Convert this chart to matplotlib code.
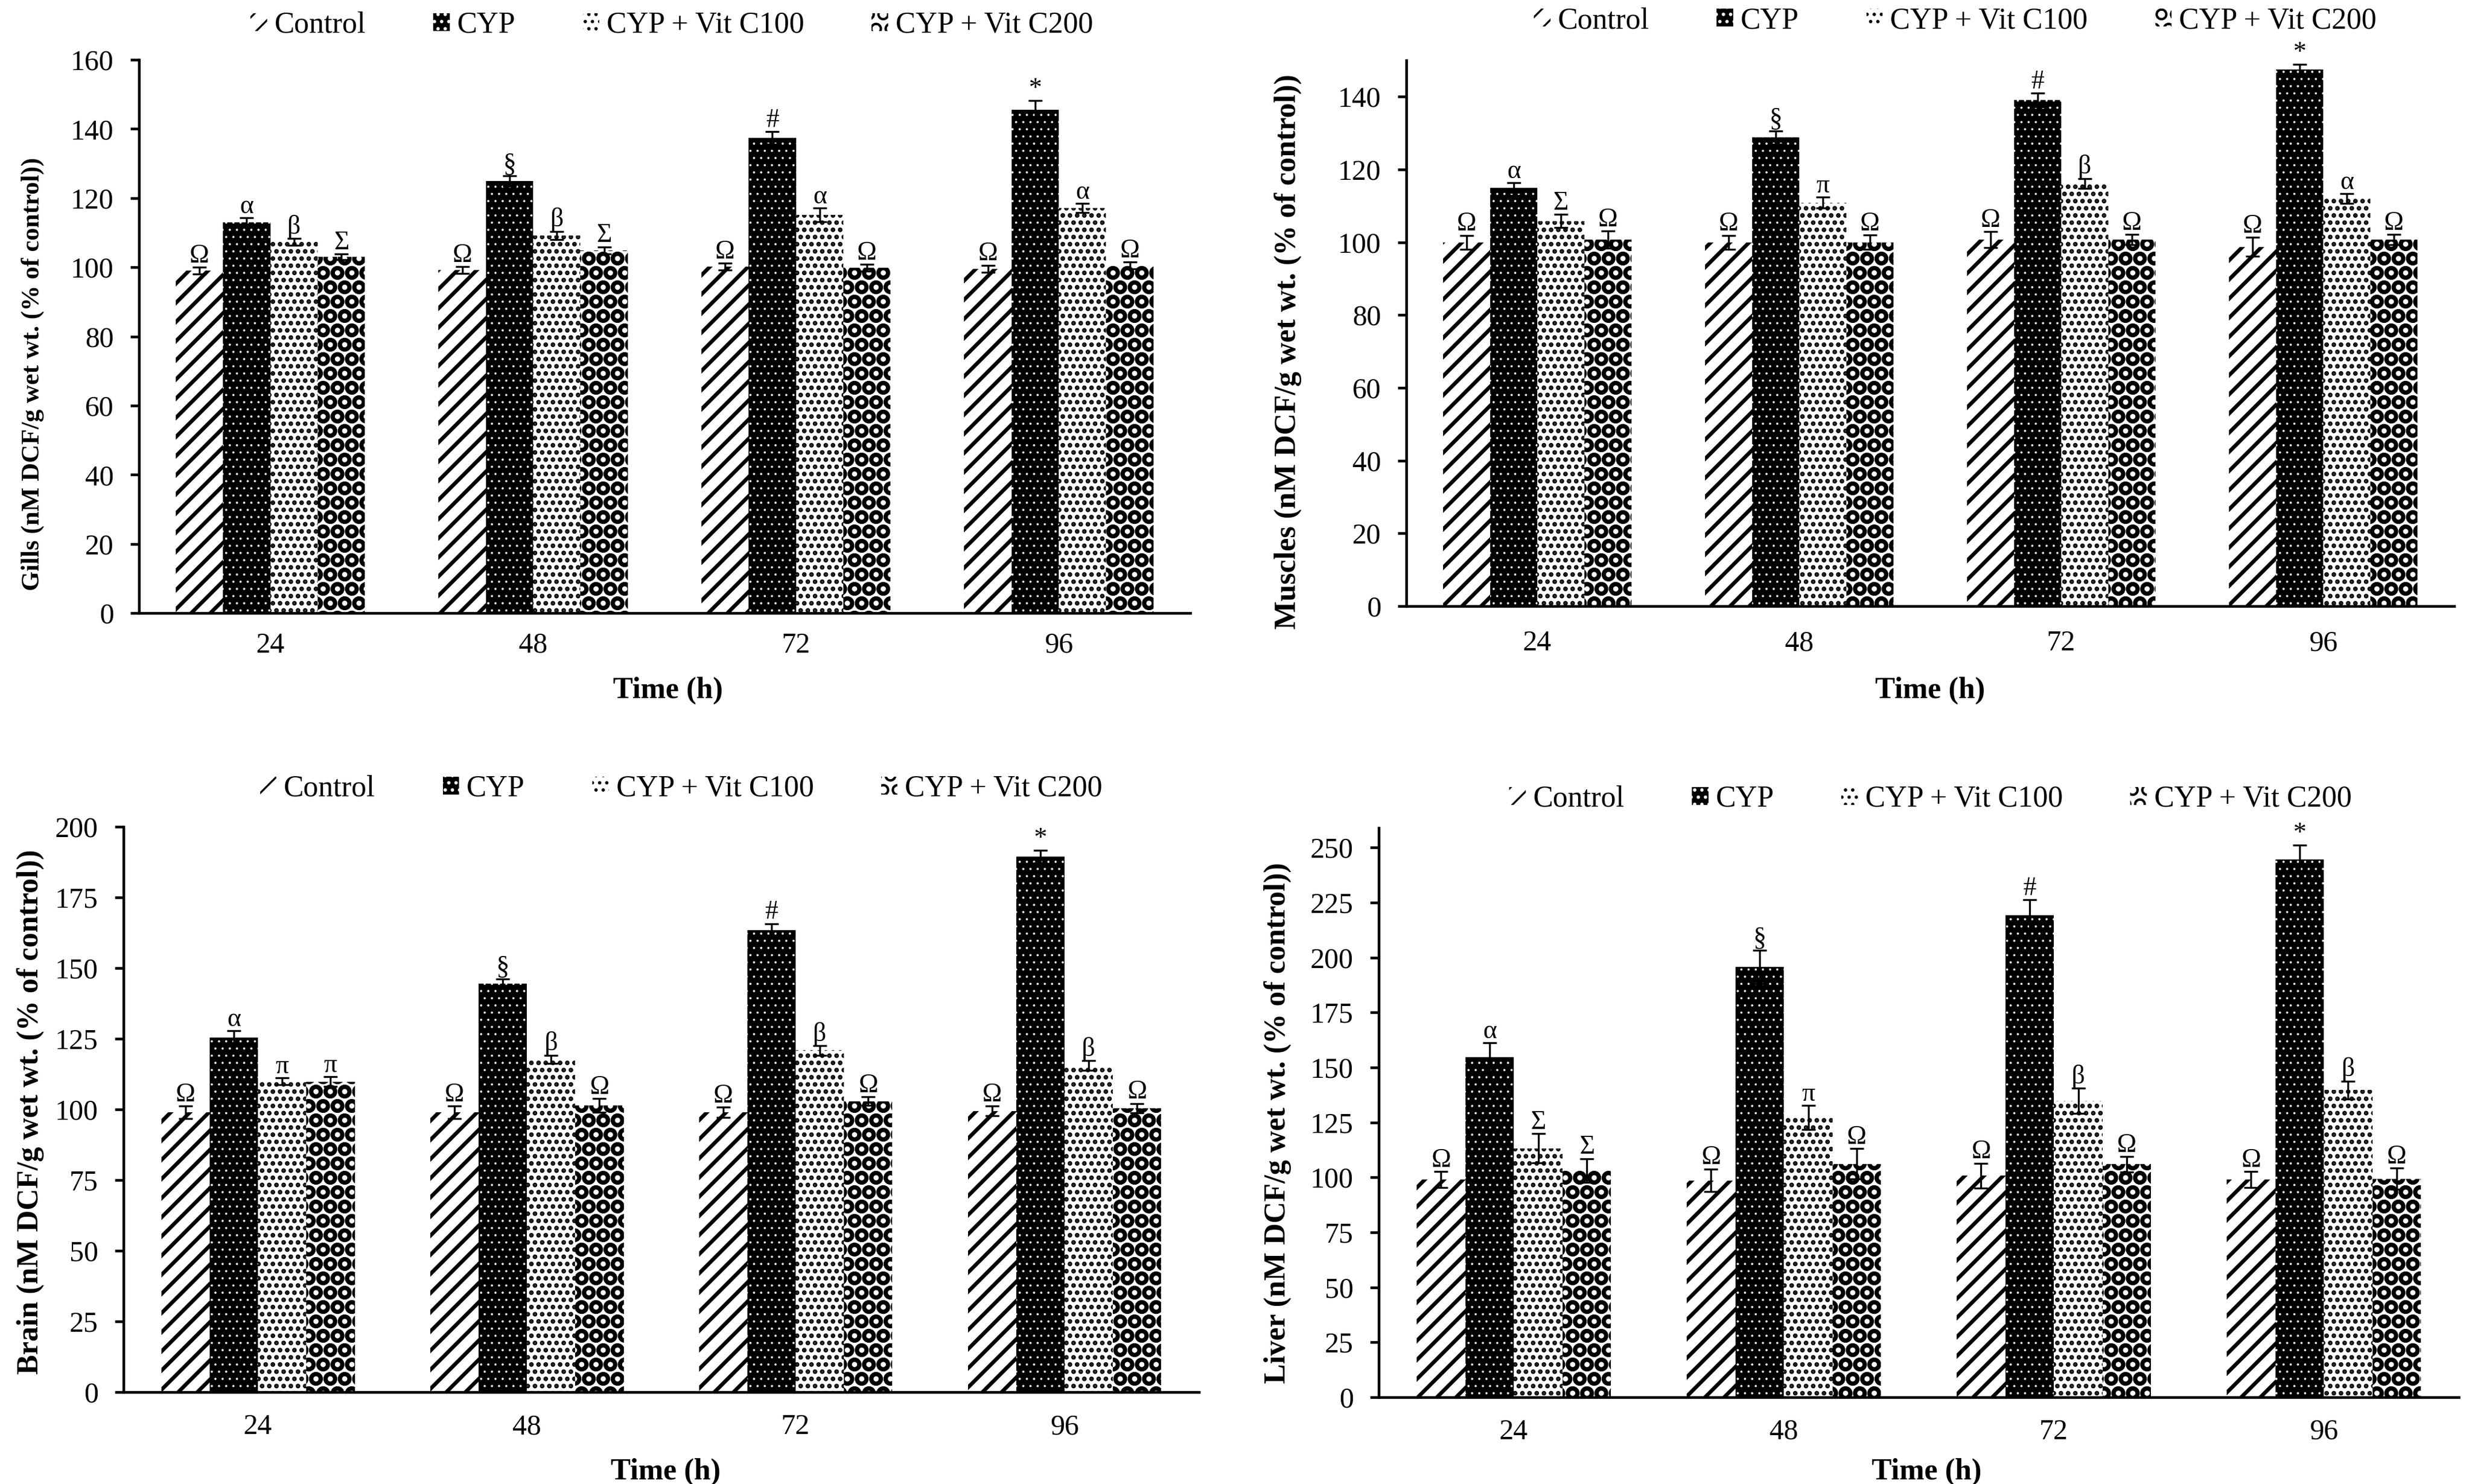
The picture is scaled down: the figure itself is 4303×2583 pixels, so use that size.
import matplotlib
matplotlib.use("agg")

import matplotlib.pyplot as plt
import numpy as np

plt.rcParams["font.family"] = ["Liberation Serif", "DejaVu Serif"]
plt.rcParams["hatch.linewidth"] = 0.8

times = ["24", "48", "72", "96"]
groups = ["Control", "CYP", "CYP + Vit C100", "CYP + Vit C200"]

# values per group (rows) over time (columns)
gills_mean = [[99.0, 99.2, 100.2, 99.6],
              [113.0, 124.9, 137.4, 145.5],
              [107.3, 109.2, 115.1, 117.2],
              [103.0, 104.9, 99.8, 100.5]]
gills_err = [[1.0, 1.0, 1.0, 1.0],
             [1.3, 1.5, 1.8, 2.7],
             [1.0, 1.2, 2.0, 1.3],
             [0.8, 1.0, 1.0, 1.0]]
gills_sig = [["Ω", "Ω", "Ω", "Ω"],
             ["α", "§", "#", "*"],
             ["β", "β", "α", "α"],
             ["Σ", "Σ", "Ω", "Ω"]]

muscles_mean = [[100.0, 100.0, 100.7, 98.7],
                [115.0, 128.8, 139.1, 147.4],
                [105.8, 110.9, 116.1, 112.0],
                [100.7, 100.0, 100.7, 100.7]]
muscles_err = [[1.9, 1.9, 2.2, 2.6],
               [1.3, 1.8, 1.9, 1.5],
               [1.8, 1.5, 1.4, 1.3],
               [2.4, 2.0, 1.4, 1.4]]
muscles_sig = [["Ω", "Ω", "Ω", "Ω"],
               ["α", "§", "#", "*"],
               ["Σ", "π", "β", "α"],
               ["Ω", "Ω", "Ω", "Ω"]]

brain_mean = [[99.0, 99.0, 99.0, 99.5],
              [125.4, 144.5, 163.5, 189.4],
              [110.0, 117.7, 120.9, 115.5],
              [109.8, 101.4, 102.9, 100.4]]
brain_err = [[2.2, 2.2, 1.8, 1.7],
             [2.4, 1.7, 2.2, 2.2],
             [1.2, 1.5, 1.7, 1.7],
             [1.7, 2.4, 1.5, 1.7]]
brain_sig = [["Ω", "Ω", "Ω", "Ω"],
             ["α", "§", "#", "*"],
             ["π", "β", "β", "β"],
             ["π", "Ω", "Ω", "Ω"]]

liver_mean = [[99.0, 98.6, 100.8, 99.0],
              [154.7, 195.8, 219.2, 244.7],
              [113.2, 127.2, 134.8, 139.7],
              [103.1, 106.2, 106.0, 99.4]]
liver_err = [[3.7, 5.2, 5.6, 3.7],
             [6.5, 7.6, 7.1, 6.3],
             [6.7, 5.4, 5.8, 4.1],
             [5.4, 6.9, 3.5, 4.8]]
liver_sig = [["Ω", "Ω", "Ω", "Ω"],
             ["α", "§", "#", "*"],
             ["Σ", "π", "β", "β"],
             ["Σ", "Ω", "Ω", "Ω"]]

# bar looks: face colour, hatch colour, hatch, hatch line width
styles = [("white", "black", "///", 1.6),
          ("black", "white", "....", 0.3),
          ("white", "black", "....", 1.3),
          ("white", "black", "OO", 1.6)]


def draw_panel(ax, mean, err, sig, ylabel, ymax, yticks, ylab_size,
               legend_xy, ylab_xy, xlab_xy, tick_pad):
    x = np.arange(len(times))
    w = 0.18
    for i, name in enumerate(groups):
        face, hcol, hatch, hlw = styles[i]
        pos = x + (i - 1.5) * w
        bars = ax.bar(pos, mean[i], w, color=face, edgecolor=hcol,
                      hatch=hatch, linewidth=0, label=name, zorder=2)
        for b in bars:
            if hasattr(b, "set_hatch_linewidth"):
                b.set_hatch_linewidth(hlw)
        ax.errorbar(pos, mean[i], yerr=err[i], fmt="none", ecolor="black",
                    elinewidth=0.8, capsize=2.8, capthick=0.8, zorder=3)
        for j in range(len(times)):
            ax.annotate(sig[i][j], (pos[j], mean[i][j] + err[i][j]),
                        xytext=(0, 2), textcoords="offset points",
                        ha="center", va="baseline", fontsize=11)

    ax.set_xlim(-0.5, len(times) - 0.5)
    ax.set_ylim(0, ymax)
    ax.set_yticks(yticks)
    ax.set_xticks(x)
    ax.set_xticklabels(times)
    ax.spines["top"].set_visible(False)
    ax.spines["right"].set_visible(False)
    ax.spines["left"].set_linewidth(1.1)
    ax.spines["bottom"].set_linewidth(1.1)
    ax.tick_params(axis="y", direction="out", length=3.6, width=1.1,
                   pad=7, labelsize=12)
    ax.tick_params(axis="x", length=0, pad=tick_pad, labelsize=12)

    ax.set_ylabel(ylabel, fontsize=ylab_size, fontweight="bold")
    ax.yaxis.set_label_coords(*ylab_xy)
    ax.set_xlabel("Time (h)", fontsize=12.5, fontweight="bold")
    ax.xaxis.label.set_va("center")
    ax.xaxis.set_label_coords(*xlab_xy)

    leg = ax.legend(loc="center", bbox_to_anchor=legend_xy,
                    bbox_transform=ax.figure.transFigure, ncol=4,
                    frameon=False, fontsize=12.5, handlelength=0.55,
                    handleheight=0.55, handletextpad=0.25,
                    columnspacing=2.25, borderpad=0, borderaxespad=0)
    return leg


fig = plt.figure(figsize=(4303 / 300, 2583 / 300), dpi=300)

ax1 = fig.add_axes([0.0562, 0.5869, 0.4253, 0.3728])
draw_panel(ax1, gills_mean, gills_err, gills_sig,
           "Gills (nM DCF/g wet wt. (% of control))", 160,
           np.arange(0, 161, 20), 10.6, (0.2718, 0.983),
           (-0.090, 0.432), (0.503, -0.140), 8)

ax2 = fig.add_axes([0.5689, 0.5916, 0.4239, 0.3678])
draw_panel(ax2, muscles_mean, muscles_err, muscles_sig,
           "Muscles (nM DCF/g wet wt. (% of control))", 150,
           np.arange(0, 141, 20), 12.5, (0.791, 0.986),
           (-0.100, 0.466), (0.500, -0.155), 10)

ax3 = fig.add_axes([0.050, 0.0619, 0.435, 0.381])
draw_panel(ax3, brain_mean, brain_err, brain_sig,
           "Brain (nM DCF/g wet wt. (% of control))", 200,
           np.arange(0, 201, 25), 12.5, (0.2756, 0.4685),
           (-0.074, 0.496), (0.504, -0.141), 9)

ax4 = fig.add_axes([0.5578, 0.0585, 0.4369, 0.3837])
draw_panel(ax4, liver_mean, liver_err, liver_sig,
           "Liver (nM DCF/g wet wt. (% of control))", 259,
           np.arange(0, 251, 25), 12.5, (0.7809, 0.4615),
           (-0.081, 0.482), (0.507, -0.131), 9)

fig.savefig("out.png", dpi=300)
